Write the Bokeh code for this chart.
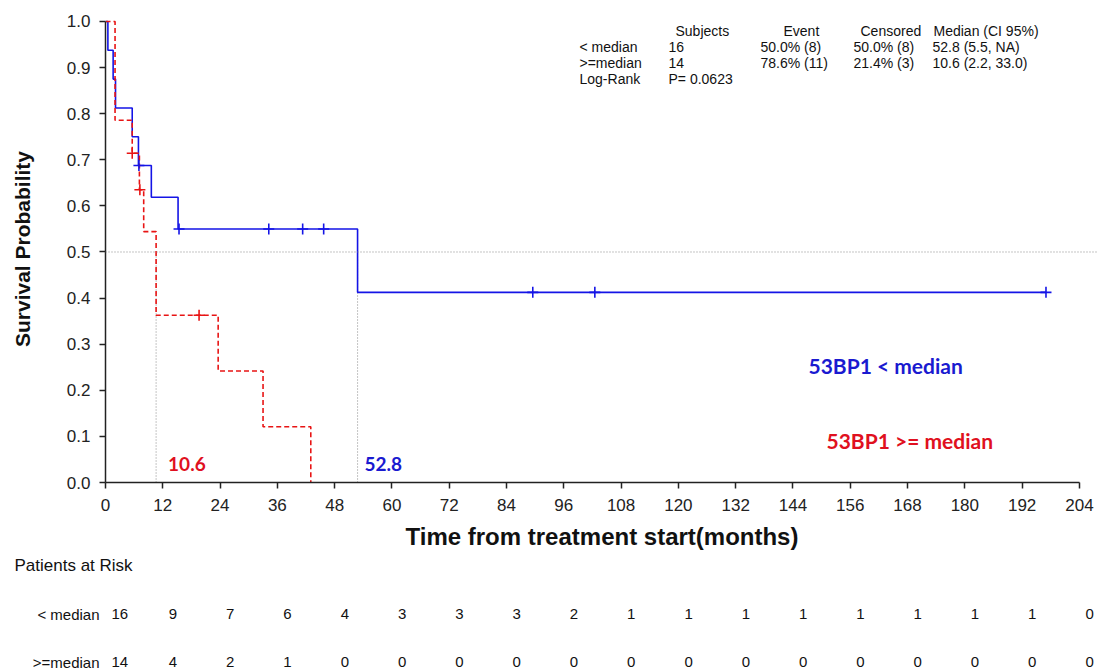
from bokeh.plotting import figure
from bokeh.models import Range1d, Span, PrintfTickFormatter, FixedTicker, ColumnDataSource
from bokeh.layouts import column
from bokeh.embed import file_html
from bokeh.resources import INLINE
from bokeh.core.properties import value

# ---------------- data ----------------
# 53BP1 < median : Kaplan-Meier steps
blue_t = [0.0, 0.5, 1.6, 2.1, 5.6, 6.9, 9.6, 15.2, 52.8, 197.0]
blue_s = [1.0, 0.9375, 0.875, 0.8125, 0.75, 0.6875, 0.6188, 0.55, 0.4125, 0.4125]
blue_cens_t = [7.0, 15.4, 34.2, 41.3, 45.7, 89.5, 102.5, 197.0]
blue_cens_s = [0.6875, 0.55, 0.55, 0.55, 0.55, 0.4125, 0.4125, 0.4125]

# 53BP1 >= median : Kaplan-Meier steps
red_t = [0.0, 2.0, 5.6, 7.1, 8.0, 10.6, 23.6, 33.0, 43.0]
red_s = [1.0, 0.7857, 0.7143, 0.6349, 0.5442, 0.3628, 0.2419, 0.1209, 0.0]
red_cens_t = [5.6, 7.2, 19.6]
red_cens_s = [0.7143, 0.6349, 0.3628]

medians = [52.8, 10.6]
median_labels = ["52.8", "10.6"]

x_ticks = [0, 12, 24, 36, 48, 60, 72, 84, 96, 108, 120, 132, 144, 156, 168, 180, 192, 204]
y_ticks = [0.0, 0.1, 0.2, 0.3, 0.4, 0.5, 0.6, 0.7, 0.8, 0.9, 1.0]

risk_times = [0, 12, 24, 36, 48, 60, 72, 84, 96, 108, 120, 132, 144, 156, 168, 180, 192, 204]
risk_low = [16, 9, 7, 6, 4, 3, 3, 3, 2, 1, 1, 1, 1, 1, 1, 1, 1, 0]
risk_high = [14, 4, 2, 1, 0, 0, 0, 0, 0, 0, 0, 0, 0, 0, 0, 0, 0, 0]
risk_row_labels = ["< median", ">=median"]

table_header = ["Subjects", "Event", "Censored", "Median (CI 95%)"]
table_rows = [
    ["< median", "16", "50.0% (8)", "50.0% (8)", "52.8 (5.5, NA)"],
    [">=median", "14", "78.6% (11)", "21.4% (3)", "10.6 (2.2, 33.0)"],
    ["Log-Rank", "P= 0.0623", "", "", ""],
]

# ---------------- layout helpers ----------------
W = 1098
FRAME_L = 105
X_END = 208.0
Y_END = 1.013
H1 = 553
FRAME_T = 15
FRAME_B = 482
SX = (W - FRAME_L) / X_END          # px per month
SY = (FRAME_B - FRAME_T) / Y_END    # px per unit of probability


def px2x(px):
    return (px - FRAME_L) / SX


def py2y(py):
    return (FRAME_B - py) / SY


BLUE = "#1414e6"
RED = "#e81414"
FONT = "Liberation Sans"

x_range = Range1d(0, X_END)
p = figure(width=W, height=H1, x_range=x_range, y_range=Range1d(0, Y_END),
           output_backend="svg", toolbar_location=None,
           min_border_left=FRAME_L, min_border_right=0, min_border_top=FRAME_T,
           min_border_bottom=H1 - FRAME_B)
p.grid.visible = False
p.outline_line_color = None

p.xaxis.ticker = FixedTicker(ticks=x_ticks)
p.yaxis.ticker = FixedTicker(ticks=y_ticks)
p.yaxis.formatter = PrintfTickFormatter(format="%.1f")
p.xaxis.bounds = (0, 204)
p.yaxis.bounds = (0, 1)
for ax in (p.xaxis[0], p.yaxis[0]):
    ax.axis_line_width = 1.5
    ax.axis_line_color = "#222222"
    ax.major_tick_line_width = 1.5
    ax.major_tick_line_color = "#222222"
    ax.major_tick_out = 6
    ax.major_tick_in = 0
    ax.minor_tick_out = 0
    ax.minor_tick_in = 0
    ax.major_label_text_font = FONT
    ax.major_label_text_font_size = "17px"
    ax.major_label_text_color = "#222222"
    ax.axis_label_text_font = FONT
    ax.axis_label_text_font_style = "bold"
    ax.axis_label_text_color = "#111111"
p.xaxis.major_label_standoff = 10
p.yaxis.major_label_standoff = 9
p.xaxis.axis_label = "Time from treatment start(months)"
p.xaxis.axis_label_text_font_size = "24px"
p.xaxis.axis_label_standoff = 9
p.yaxis.axis_label = "Survival Probability"
p.yaxis.axis_label_text_font_size = "21px"
p.yaxis.axis_label_standoff = 30

# reference lines
p.add_layout(Span(location=0.5, dimension="width", line_color="#8a8a8a",
                  line_dash="1 2", line_width=1))
p.segment(x0=medians, y0=[0, 0], x1=medians, y1=[0.5, 0.5], line_color="#8a8a8a",
          line_dash="1 2", line_width=1)

# curves
p.step(blue_t, blue_s, mode="after", line_color=BLUE, line_width=1.6)
p.step(red_t, red_s, mode="after", line_color=RED, line_width=1.6, line_dash="5 3")
p.scatter(blue_cens_t, blue_cens_s, marker="cross", size=11, line_color=BLUE, line_width=1.6)
p.scatter(red_cens_t, red_cens_s, marker="cross", size=11, line_color=RED, line_width=1.6)

# median annotations
p.text(x=[medians[1]], y=[py2y(463)], text=[median_labels[1]], x_offset=12,
       text_font=value("Lato"), text_font_style="bold", text_font_size="19px",
       text_color="#e01020", text_baseline="middle", text_align="left")
p.text(x=[medians[0]], y=[py2y(463)], text=[median_labels[0]], x_offset=7,
       text_font=value("Lato"), text_font_style="bold", text_font_size="19px",
       text_color="#1a1ad0", text_baseline="middle", text_align="left")

# group annotations
p.text(x=[px2x(808)], y=[py2y(365)], text=["53BP1 < median"],
       text_font=value("Lato"), text_font_style="bold", text_font_size="21px",
       text_color="#1a1ad0", text_baseline="middle", text_align="left")
p.text(x=[px2x(826)], y=[py2y(440)], text=["53BP1 >= median"],
       text_font=value("Lato"), text_font_style="bold", text_font_size="21px",
       text_color="#e01020", text_baseline="middle", text_align="left")

# summary table (top right)
col_px = [579, 668, 760, 853, 932]
head_px = [675, 783, 860, 933]
row_py = [46, 62, 78]
tx, ty, tt = [], [], []
for h, hx in zip(table_header, head_px):
    tx.append(px2x(hx)); ty.append(py2y(30)); tt.append(h)
for r, ry in zip(table_rows, row_py):
    for c, cx in zip(r, col_px):
        if c:
            tx.append(px2x(cx)); ty.append(py2y(ry)); tt.append(c)
p.text(x=tx, y=ty, text=tt, text_font=value(FONT), text_font_size="14px",
       text_color="#111111", text_baseline="middle", text_align="left")

# ---------------- risk table ----------------
H2 = 670 - H1
TOP2 = 20  # frame top inside the risk figure
p2 = figure(width=W, height=H2, x_range=x_range,
            y_range=Range1d(H2 - TOP2, 0), output_backend="svg", toolbar_location=None,
            min_border_left=FRAME_L, min_border_right=0, min_border_top=TOP2,
            min_border_bottom=0, x_axis_location=None, y_axis_location="left")
p2.grid.visible = False
p2.outline_line_color = None
p2.title.text = "Patients at Risk"
p2.title.align = "left"
p2.title.offset = 14 - FRAME_L
p2.title.text_font = FONT
p2.title.text_font_style = "normal"
p2.title.text_font_size = "17px"
p2.title.text_color = "#111111"
p2.title.standoff = 0

row_y = [613.3 - H1 - TOP2, 661.7 - H1 - TOP2]
p2.yaxis.ticker = FixedTicker(ticks=row_y)
p2.yaxis.major_label_overrides = {row_y[0]: risk_row_labels[0], row_y[1]: risk_row_labels[1]}
p2.yaxis.axis_line_color = None
p2.yaxis.major_tick_line_color = None
p2.yaxis.minor_tick_line_color = None
p2.yaxis.major_tick_out = 0
p2.yaxis.major_tick_in = 0
p2.yaxis.major_label_standoff = 6
p2.yaxis.major_label_text_font = FONT
p2.yaxis.major_label_text_font_size = "15px"
p2.yaxis.major_label_text_color = "#111111"

for vals, yy in zip([risk_low, risk_high], row_y):
    src = ColumnDataSource(dict(x=risk_times, y=[yy] * len(risk_times),
                                t=[str(v) for v in vals]))
    p2.text(x="x", y="y", text="t", source=src, x_offset=6, text_font=value(FONT),
            text_font_size="15px", text_color="#111111", text_baseline="middle",
            text_align="left")

layout = column(p, p2, spacing=0)
open("out.html", "w").write(file_html(layout, INLINE))
